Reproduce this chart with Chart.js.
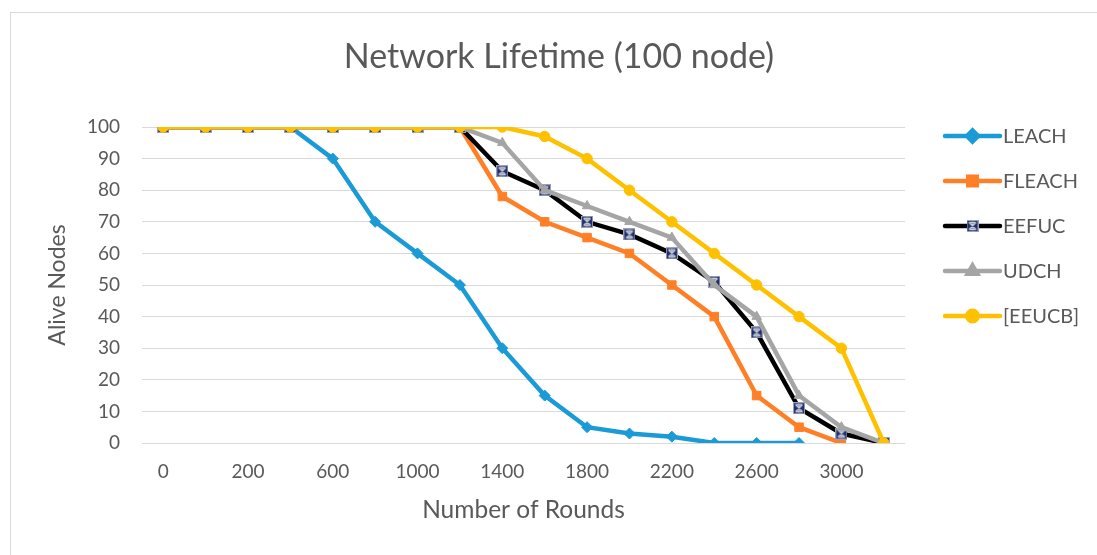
<!DOCTYPE html>
<html>
<head>
<meta charset="utf-8">
<script src="https://cdn.jsdelivr.net/npm/chart.js@4.4.1/dist/chart.umd.min.js"></script>
<style>
  html, body { margin: 0; padding: 0; background: #ffffff; }
  #wrap { width: 1097px; height: 555px; position: relative; }
</style>
</head>
<body>
<div id="wrap"><canvas id="chart" width="1097" height="555"></canvas></div>
<script>
// Rounds (x categories) and alive-node counts per protocol
const rounds = ['0', '100', '200', '400', '600', '800', '1000', '1200', '1400', '1600',
                '1800', '2000', '2200', '2400', '2600', '2800', '3000', '3200'];
const leach  = [100, 100, 100, 100, 90, 70, 60, 50, 30, 15, 5, 3, 2, 0, 0, 0, null, null];
const fleach = [100, 100, 100, 100, 100, 100, 100, 100, 78, 70, 65, 60, 50, 40, 15, 5, 0, null];
const eefuc  = [100, 100, 100, 100, 100, 100, 100, 100, 86, 80, 70, 66, 60, 51, 35, 11, 3, 0];
const udch   = [100, 100, 100, 100, 100, 100, 100, 100, 95, 80, 75, 70, 65, 50, 40, 15, 5, 0];
const eeucb  = [100, 100, 100, 100, 100, 100, 100, 100, 100, 97, 90, 80, 70, 60, 50, 40, 30, 0];
const yTicks = [0, 10, 20, 30, 40, 50, 60, 70, 80, 90, 100];
const chartTitle = 'Network Lifetime (100 node)';

const FONT = 'Lato, "Open Sans", sans-serif';
const TEXT = '#595959';

// Navy square with a light star, used as the EEFUC marker
function starSquare(size) {
  const c = document.createElement('canvas');
  c.width = size; c.height = size;
  const g = c.getContext('2d');
  g.fillStyle = '#1F2F6B';
  g.fillRect(0, 0, size, size);
  g.strokeStyle = '#9AA0B8';
  g.lineWidth = 1;
  g.strokeRect(0.5, 0.5, size - 1, size - 1);
  g.strokeStyle = '#C8CCDA';
  g.lineWidth = 1.3;
  g.beginPath();
  g.moveTo(2.5, 2.5); g.lineTo(size - 2.5, size - 2.5);
  g.moveTo(size - 2.5, 2.5); g.lineTo(2.5, size - 2.5);
  g.moveTo(size / 2, 1.5); g.lineTo(size / 2, size - 1.5);
  g.moveTo(2.5, 2.5); g.lineTo(size - 2.5, 2.5);
  g.moveTo(2.5, size - 2.5); g.lineTo(size - 2.5, size - 2.5);
  g.stroke();
  return c;
}
const eefucMarker = starSquare(12);

function series(label, data, color, style, radius, order) {
  return {
    label, data, order,
    borderColor: color,
    backgroundColor: color,
    pointBackgroundColor: color,
    pointBorderColor: color,
    borderWidth: 4.5,
    pointStyle: style,
    pointRadius: radius,
    pointBorderWidth: 1,
    tension: 0,
    spanGaps: false
  };
}

const datasets = [
  series('LEACH',  leach,  '#1A9AD6', 'rectRot', 5.5, 5),
  series('FLEACH', fleach, '#FF7F27', 'rect', 6, 4),
  series('EEFUC',  eefuc,  '#000000', eefucMarker, 6, 3),
  series('UDCH',   udch,   '#A5A5A5', 'triangle', 5.5, 2),
  series('[EEUCB]', eeucb, '#FFC000', 'circle', 5.2, 1)
];

// Title and right-hand legend (line sample with marker, then the series name)
const sideLegend = {
  id: 'sideLegend',
  afterDraw(chart) {
    const ctx = chart.ctx;
    ctx.save();
    ctx.fillStyle = TEXT;
    ctx.font = '34px ' + FONT;
    ctx.textAlign = 'center';
    ctx.textBaseline = 'middle';
    ctx.fillText(chartTitle, 559, 57);
    ctx.restore();

    const x0 = 945, x1 = 1000, top = 136, step = 45;
    chart.data.datasets.forEach((ds, i) => {
      const y = top + i * step;
      ctx.save();
      ctx.strokeStyle = ds.borderColor;
      ctx.lineWidth = 4.5;
      ctx.lineCap = 'round';
      ctx.beginPath();
      ctx.moveTo(x0, y); ctx.lineTo(x1, y);
      ctx.stroke();
      const cx = (x0 + x1) / 2;
      if (ds.pointStyle instanceof HTMLCanvasElement) {
        const s = ds.pointStyle.width;
        ctx.drawImage(ds.pointStyle, cx - s / 2, y - s / 2);
      } else {
        ctx.fillStyle = ds.backgroundColor;
        ctx.strokeStyle = ds.borderColor;
        Chart.helpers.drawPoint(ctx, {
          pointStyle: ds.pointStyle, radius: ds.pointRadius, rotation: 0, borderWidth: 1
        }, cx, y);
      }
      ctx.fillStyle = TEXT;
      ctx.font = '20px ' + FONT;
      ctx.textAlign = 'left';
      ctx.textBaseline = 'middle';
      ctx.fillText(ds.label, 1003, y + 1);
      ctx.restore();
    });
  }
};

// White background and thin frame
const frame = {
  id: 'frame',
  beforeDraw(chart) {
    const ctx = chart.ctx;
    ctx.save();
    ctx.fillStyle = '#ffffff';
    ctx.fillRect(0, 0, chart.width, chart.height);
    ctx.strokeStyle = '#D9D9D9';
    ctx.lineWidth = 1;
    ctx.strokeRect(10.5, 12.5, chart.width + 20, chart.height + 20);
    ctx.restore();
  }
};

new Chart(document.getElementById('chart'), {
  type: 'line',
  data: { labels: rounds, datasets },
  plugins: [frame, sideLegend],
  options: {
    responsive: false,
    animation: false,
    layout: { padding: { left: 0, right: 192, top: 127, bottom: 0 } },
    plugins: {
      legend: { display: false },
      tooltip: { enabled: false },
      title: { display: false }
    },
    scales: {
      x: {
        type: 'category',
        offset: true,
        grid: { display: false, drawTicks: false },
        border: { display: false },
        ticks: {
          autoSkip: false,
          maxRotation: 0,
          color: TEXT,
          font: { family: FONT, size: 19 },
          padding: 17,
          callback: (v, i) => (i % 2 === 0 ? rounds[i] : '')
        },
        title: {
          display: true,
          text: 'Number of Rounds',
          color: TEXT,
          font: { family: FONT, size: 24.5 },
          padding: { top: 0, bottom: 30 }
        },
        afterFit(scale) { scale.height = 112; }
      },
      y: {
        min: 0,
        max: 100,
        afterBuildTicks(scale) { scale.ticks = yTicks.map(v => ({ value: v })); },
        grid: { color: '#D9D9D9', lineWidth: 1, drawTicks: false },
        border: { display: false },
        ticks: {
          color: TEXT,
          font: { family: FONT, size: 19 },
          padding: 22
        },
        title: {
          display: true,
          text: 'Alive Nodes',
          color: TEXT,
          font: { family: FONT, size: 23 },
          padding: { top: 44, bottom: 0 }
        },
        afterFit(scale) { scale.width = 142; }
      }
    }
  }
});
</script>
</body>
</html>
